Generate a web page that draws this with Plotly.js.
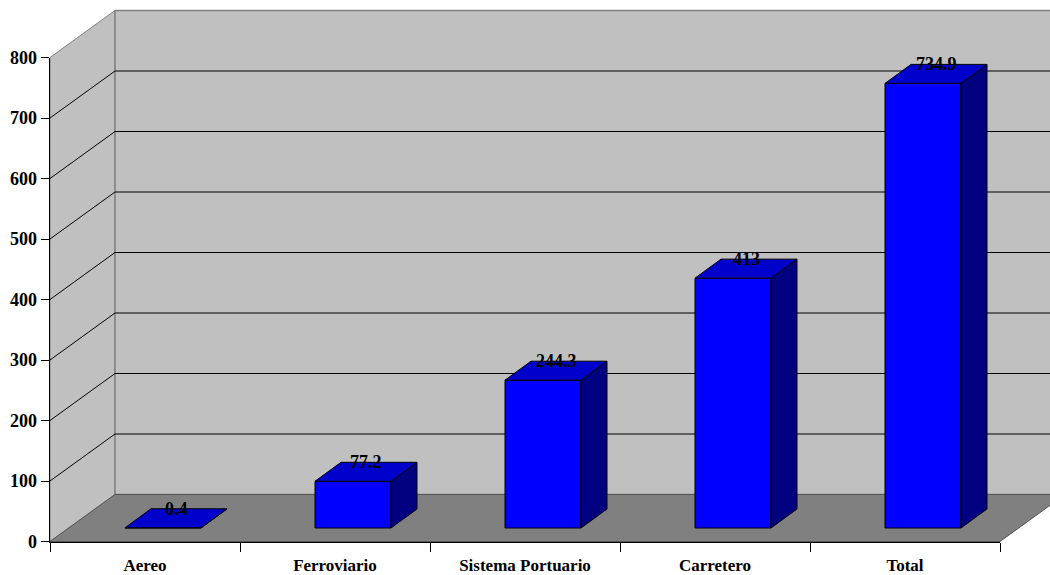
<!DOCTYPE html>
<html>
<head>
<meta charset="utf-8">
<script src="https://cdn.plot.ly/plotly-3.0.1.min.js"></script>
<style>html,body{margin:0;padding:0;background:#fff;}</style>
</head>
<body>
<div id="chart" style="width:1050px;height:575px;"></div>
<script>
// ---- data ----
const categories = ["Aereo", "Ferroviario", "Sistema Portuario", "Carretero", "Total"];
const values = [0.4, 77.2, 244.3, 413, 734.9];
const labels = ["0.4", "77.2", "244.3", "413", "734.9"];
const yTicks = [0, 100, 200, 300, 400, 500, 600, 700, 800];

// ---- geometry (pixels) ----
const W = 1050, H = 575;
const X0 = 50, X1 = 1000;          // front plane x extent
const Y0 = 541.5, YTOP = 57.5;     // front plane y of 0 and 800
const YMAX = 800;
const DX = 65, DY = 47;            // full depth offset of the walls
const BDX = 18, BDY = 13.5;        // offset of the bars' front plane
const BARDX = 26, BARDY = 19;      // bar depth
const pxPerCat = (X1 - X0) / categories.length;
const pxPerVal = (Y0 - YTOP) / YMAX;

function px(x){ return x / W; }
function py(y){ return 1 - y / H; }
function P(x, y){ return px(x) + ',' + py(y); }

const shapes = [];
// left wall
shapes.push({type:'path', xref:'paper', yref:'paper', layer:'below',
  path:`M${P(X0,YTOP)} L${P(X0+DX,YTOP-DY)} L${P(X0+DX,Y0-DY)} L${P(X0,Y0)} Z`,
  fillcolor:'#C0C0C0', line:{color:'#808080', width:1}});
// back wall
shapes.push({type:'path', xref:'paper', yref:'paper', layer:'below',
  path:`M${P(X0+DX,YTOP-DY)} L${P(X1+DX,YTOP-DY)} L${P(X1+DX,Y0-DY)} L${P(X0+DX,Y0-DY)} Z`,
  fillcolor:'#C0C0C0', line:{color:'#808080', width:1.5}});
// floor
shapes.push({type:'path', xref:'paper', yref:'paper', layer:'below',
  path:`M${P(X0,Y0)} L${P(X0+DX,Y0-DY)} L${P(X1+DX,Y0-DY)} L${P(X1,Y0)} Z`,
  fillcolor:'#808080', line:{color:'#555555', width:1}});
// gridlines
yTicks.forEach(v => {
  if (v === 0 || v === YMAX) return;
  const yf = Y0 - v * pxPerVal;
  shapes.push({type:'line', xref:'paper', yref:'paper', layer:'below',
    x0:px(X0), y0:py(yf), x1:px(X0+DX), y1:py(yf-DY), line:{color:'#000', width:1}});
  shapes.push({type:'line', xref:'paper', yref:'paper', layer:'below',
    x0:px(X0+DX), y0:py(yf-DY), x1:px(X1+DX), y1:py(yf-DY), line:{color:'#000', width:1}});
});

// bars: projected onto the front axes, shifted into depth
const barW = 0.4;
const xOff = BDX / pxPerCat;      // category units
const baseV = BDY / pxPerVal;     // value units
const dxu = BARDX / pxPerCat;
const dyu = BARDY / pxPerVal;
values.forEach((v, i) => {
  const xl = i - barW/2 + xOff, xr = i + barW/2 + xOff;
  const b = baseV, t = baseV + v;
  shapes.push({type:'path', xref:'x', yref:'y', layer:'above',
    path:`M${xr},${b} L${xr},${t} L${xr+dxu},${t+dyu} L${xr+dxu},${b+dyu} Z`,
    fillcolor:'#000080', line:{color:'#000', width:1}});
  shapes.push({type:'path', xref:'x', yref:'y', layer:'above',
    path:`M${xl},${t} L${xr},${t} L${xr+dxu},${t+dyu} L${xl+dxu},${t+dyu} Z`,
    fillcolor:'#0000CC', line:{color:'#000', width:1}});
});

const font = {family:'"Liberation Serif", "Times New Roman", serif', size:18, color:'#000', weight:'bold'};
const xfont = {family:'"Liberation Serif", "Times New Roman", serif', size:17, color:'#000', weight:'bold'};

const annotations = values.map((v, i) => ({
  xref:'x', yref:'y', x:i + xOff, y:baseV + v, text:labels[i], showarrow:false,
  xshift: BARDX/2, yshift: BARDY, xanchor:'center', yanchor:'middle', font:font
}));

const trace = {
  type:'bar', x:categories.map((c,i)=>i), y:values,
  base:values.map(()=>baseV), width:barW, offset:-barW/2 + xOff,
  marker:{color:'#0000FF', line:{color:'#000', width:1}},
  hoverinfo:'skip'
};

const layout = {
  width:W, height:H, margin:{l:0, r:0, t:0, b:0},
  paper_bgcolor:'#fff', plot_bgcolor:'rgba(0,0,0,0)', showlegend:false,
  xaxis:{domain:[px(X0), px(X1)], range:[-0.5, categories.length-0.5], type:'linear',
    tickvals:categories.map((c,i)=>i), ticktext:categories, ticks:'',
    minor:{tick0:-0.5, dtick:1, ticks:'outside', ticklen:9, tickcolor:'#000', tickwidth:1, showgrid:false},
    showline:true, linecolor:'#000', linewidth:1.5, showgrid:false, zeroline:false,
    tickfont:xfont, ticklabelstandoff:8, fixedrange:true},
  yaxis:{domain:[py(Y0), py(YTOP)], range:[0, YMAX], tickvals:yTicks, ticks:'outside', ticklen:8,
    tickcolor:'#000', showline:true, linecolor:'#000', linewidth:1.5, showgrid:false, zeroline:false,
    tickfont:font, fixedrange:true},
  shapes:shapes, annotations:annotations
};

Plotly.newPlot('chart', [trace], layout, {displayModeBar:false, staticPlot:true});
</script>
</body>
</html>
